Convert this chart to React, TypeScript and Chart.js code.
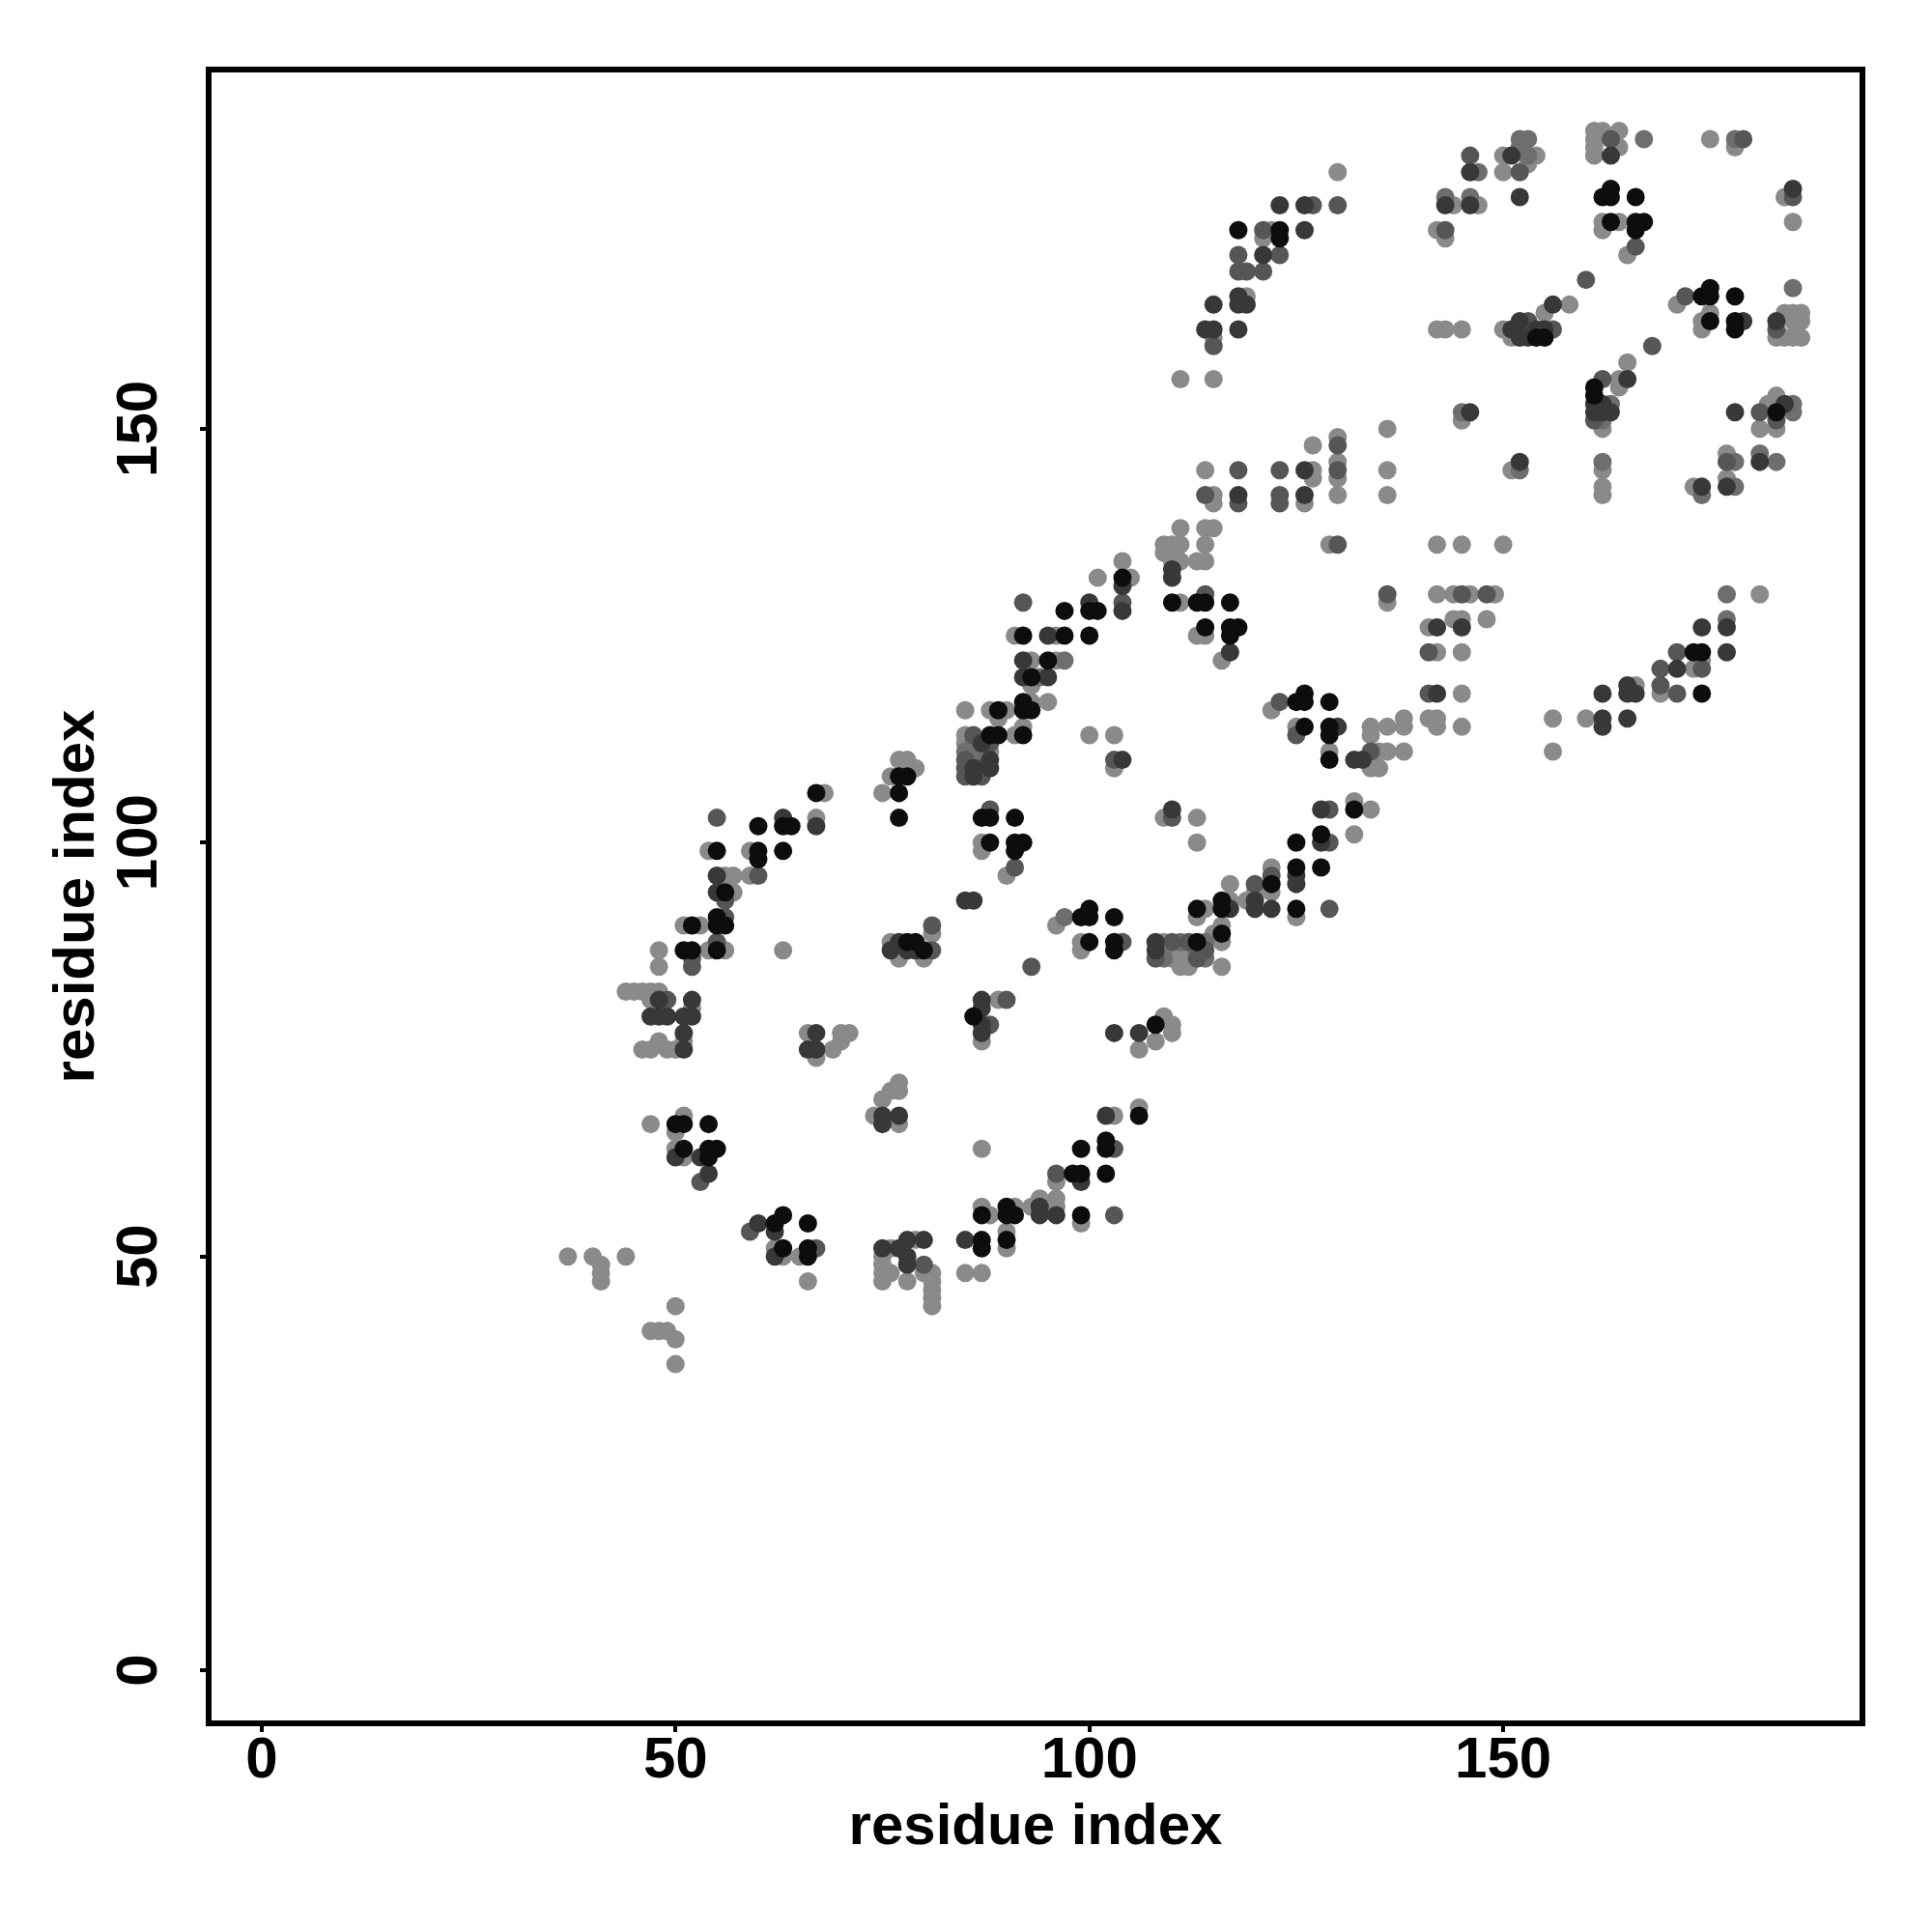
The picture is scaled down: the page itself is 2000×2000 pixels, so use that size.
import { useEffect, useRef } from "react";
import { Chart, registerables } from "chart.js";

Chart.register(...registerables);

// Axis settings
const AXIS_MIN = -6.4;
const AXIS_MAX = 193.4;
const TICK_VALUES = [0, 50, 100, 150];
const X_TITLE = "residue index";
const Y_TITLE = "residue index";

// Contacts (residue i, residue j), grouped by shade
const blackPairs: [number, number][] = [
  [62,54],[63,55],[66,54],[63,51],[66,51],[66,50],[87,52],[87,51],[87,55],
  [50,66],[51,66],[54,66],[51,63],[54,63],[55,63],[54,62],
  [51,87],[52,87],[55,87],[52,90],[55,91],[55,90],[56,90],
  [78,88],[79,88],[80,87],[86,79],
  [56,94],[55,99],[60,99],[60,98],[63,99],[60,102],[63,102],[64,102],[67,106],[77,106],[77,108],[78,108],[77,103],
  [88,113],[89,113],[92,113],[87,103],[88,103],[91,103],[88,100],[91,100],[92,100],[91,99],
  [97,128],[100,128],[101,128],[92,125],[97,125],[100,125],[95,122],[93,120],[92,117],[92,116],[93,116],[89,116],[104,132],
  [110,129],[113,129],[114,129],[117,129],[114,126],[117,126],[118,126],[117,125],
  [125,117],[126,118],[126,117],[129,117],[126,114],[129,114],[129,113],[129,110],
  [132,104],[125,100],[128,101],[125,97],[128,97],[122,95],[125,92],[116,93],[116,92],[113,92],[116,89],[113,88],
  [100,88],[103,88],[103,87],[99,91],[100,92],[100,91],[103,91],
  [108,78],[106,67],[99,63],[102,64],[102,63],[98,60],[99,60],[102,60],[90,56],[90,55],[91,55],[99,55],[90,52],
  [173,123],[174,123],[174,118],
  [118,174],[123,174],[123,173],
  [162,178],[163,179],[163,178],[166,178],[163,175],[166,175],[167,175],[166,174],[154,161],[155,161],
  [174,166],[175,167],[175,166],[178,166],[175,163],[178,163],[178,162],[161,155],[161,154],[183,152],
];

const darkPairs: [number, number][] = [
  [60,54],[62,53],[62,50],[75,51],[77,51],[78,52],[80,52],[78,50],[78,49],[85,52],
  [50,62],[53,62],[54,60],[48,81],[52,81],[47,79],[48,79],[49,79],[51,79],[52,79],[51,77],[51,75],
  [67,77],[66,75],[67,75],[75,67],[75,66],[77,67],
  [76,87],[77,88],[78,87],[79,87],
  [87,81],[87,80],[87,78],[87,77],
  [55,96],[55,94],[63,103],[67,102],[86,109],[86,108],[87,112],[88,110],[88,109],
  [85,93],[86,93],
  [100,129],[104,128],[95,125],[92,122],[92,120],[95,120],[104,131],
  [104,110],[110,133],[110,132],[117,123],
  [130,114],[132,110],[133,110],[128,104],[128,100],[125,96],[122,92],[125,95],[120,93],[120,92],[117,92],
  [108,88],[108,87],[110,104],
  [94,56],[94,55],[96,55],[99,59],[103,77],[106,77],[102,67],
  [145,126],[142,126],[142,118],[162,115],[162,114],[165,115],[162,118],[165,119],[165,118],[166,118],[171,121],[174,126],[177,126],[177,123],
  [123,177],[126,177],[126,174],[121,171],[118,166],[118,165],[119,165],[115,165],[114,162],[115,162],[118,162],[126,145],[118,142],[126,142],
  [146,181],[151,183],[163,183],[143,177],[146,177],[152,178],[185,179],[151,162],[152,163],[154,162],[155,162],[152,161],[153,161],
  [156,165],[179,163],[183,163],[165,156],[161,153],[162,153],[161,152],[162,152],[163,152],[146,152],[152,146],[178,152],[184,153],
  [181,146],[174,143],[177,143],
];

const midPairs: [number, number][] = [
  [59,53],[67,51],[80,49],[53,59],[49,81],[52,86],[52,85],[88,78],[90,81],[93,85],[55,88],[56,91],[56,93],[60,96],[55,103],[81,90],[81,87],
  [86,113],[85,110],[85,109],[85,108],[88,112],[87,109],[87,108],[88,104],[91,97],
  [92,129],[104,129],[103,110],
  [114,130],[130,136],[136,130],[123,117],[125,113],[134,111],
  [129,104],[129,100],[122,96],[129,92],[120,95],[110,103],
  [112,88],[110,88],[114,87],[108,86],[113,86],[104,88],
  [103,63],[96,60],[103,55],
  [145,130],[148,130],[141,123],[141,118],[169,121],[169,119],[171,123],[171,118],[174,121],
  [127,177],[130,177],[121,174],[118,171],[123,171],[118,169],[119,169],[121,169],[115,160],[130,148],[118,145],[123,145],[130,145],[114,142],[118,141],[123,142],[123,141],
  [146,183],[152,181],[163,185],[179,185],[143,174],[166,172],[185,178],[160,168],[153,163],[156,162],[168,160],[172,166],[183,162],[162,156],[161,151],[181,152],[183,151],[177,146],
];

const dimPairs: [number, number][] = [
  [86,112],[85,111],[86,110],[87,110],
  [97,122],[94,120],[97,91],
  [111,88],[114,88],[113,87],[114,86],[109,86],
  [177,127],[177,130],
  [152,185],[153,185],[152,184],[153,183],[147,181],[167,185],[178,185],[143,178],[146,178],[185,167],[163,153],[162,151],[162,146],
  [145,152],[152,145],[185,153],[185,152],[178,146],[181,147],[183,146],[174,142],[178,143],
];

const lightPairs: [number, number][] = [
  [37,50],[40,50],[41,49],[41,48],[41,47],[44,50],[50,44],[47,41],[48,41],[49,41],[50,40],[50,37],
  [62,51],[63,50],[65,50],[66,47],
  [75,50],[75,49],[75,48],[75,47],[76,51],[76,48],[79,52],[78,47],[80,48],[81,48],[81,47],[81,46],[81,45],[81,44],
  [85,48],[87,48],[87,56],[88,55],[91,56],[93,56],[94,57],[96,57],[96,56],[99,54],[90,53],[90,51],
  [47,66],[51,67],[50,65],[50,63],[51,62],
  [44,82],[45,82],[46,82],[47,82],[48,82],[47,81],[52,80],[46,75],[47,75],[48,76],[49,75],[50,75],[51,76],
  [66,77],[67,74],[69,75],[70,77],[71,77],[70,76],
  [77,71],[76,70],[75,69],[77,70],[74,67],[77,66],[87,63],
  [48,87],[48,85],[54,87],[56,87],[63,87],[51,90],[53,90],
  [76,88],[77,86],[80,86],[81,89],
  [87,76],[89,81],
  [56,96],[57,96],[57,94],[54,99],[59,99],[59,96],[67,103],[68,106],[75,106],[76,108],[77,110],[78,110],[79,109],
  [85,116],[88,116],[85,113],[85,112],[86,111],[88,111],[91,113],[92,114],
  [87,100],[90,96],[87,99],
  [91,125],[96,125],[93,122],[96,122],[93,119],[93,117],[95,117],[90,116],[89,115],
  [104,134],[101,132],[105,132],[100,113],[103,113],[103,109],
  [111,138],[114,138],[115,138],[109,136],[110,136],[111,136],[114,136],[109,135],[110,135],[110,134],[111,134],[113,134],[114,134],
  [111,129],[113,125],[114,125],[116,122],[129,136],[136,129],
  [122,116],[125,114],[134,114],[136,114],[138,115],[138,114],[134,113],[129,111],[135,111],[136,111],[138,111],[134,109],[135,109],
  [132,105],[134,104],[132,101],[122,97],[122,94],[125,91],[120,94],[119,93],[117,95],[117,93],[114,92],[113,91],[116,90],[116,88],[115,89],
  [111,87],[112,87],[112,86],[109,88],[110,86],[111,85],[112,85],[116,85],
  [99,88],[99,87],[96,90],
  [109,103],[113,103],[113,100],
  [106,75],[109,79],[110,78],[110,77],[108,76],[103,67],[106,68],[96,59],
  [142,136],[145,136],[150,136],[142,130],[144,130],[146,130],[149,130],[144,127],[145,127],[148,127],[141,126],[142,123],[145,123],[145,118],
  [141,115],[142,115],[142,114],[145,114],[156,115],[156,111],[160,115],[166,119],[169,118],[174,122],[173,121],[181,130],
  [130,181],[122,174],[121,173],[119,166],[115,161],[111,156],[115,156],[136,150],[127,148],[130,149],[114,145],[127,145],[127,144],[130,146],[130,144],[136,145],
  [115,142],[115,141],[126,141],[130,142],[136,142],
  [150,183],[150,181],[154,183],[153,182],[161,186],[162,186],[164,186],[161,185],[161,184],[161,183],[164,184],[175,185],[178,184],[144,177],[147,177],
  [142,174],[143,173],[162,175],[164,175],[162,174],[165,171],[184,178],[185,175],[142,162],[143,162],[145,162],[150,162],[151,161],[155,164],[158,165],
  [171,165],[175,164],[174,163],[174,162],[184,164],[185,164],[186,164],[183,161],[184,161],[185,161],[186,161],[185,163],[186,163],
  [165,158],[164,156],[164,155],[162,150],[162,145],[162,143],[162,142],[145,151],[151,145],[182,153],[183,154],[181,150],[183,150],[177,147],[173,143],[177,144],
];

const FONT_FAMILY = "'Liberation Sans', Arial, Helvetica, sans-serif";

const framePlugin = {
  id: "frameBox",
  afterDatasetsDraw(chart: any) {
    const { ctx, chartArea } = chart;
    const { left, top, right, bottom } = chartArea;
    ctx.save();
    ctx.strokeStyle = "#000";
    ctx.lineWidth = 6;
    ctx.strokeRect(left, top, right - left, bottom - top);
    ctx.restore();
  },
};

function toPoints(pairs: [number, number][]) {
  return pairs.map(([x, y]) => ({ x, y }));
}

export default function App() {
  const canvasRef = useRef<HTMLCanvasElement | null>(null);

  useEffect(() => {
    const canvas = canvasRef.current;
    if (!canvas) return;
    const tickFont = { family: FONT_FAMILY, size: 60, weight: "bold" as const, lineHeight: 1 };
    const groups = [
      { label: "black", data: blackPairs, color: "#0d0d0d" },
      { label: "dark", data: darkPairs, color: "#383838" },
      { label: "mid", data: midPairs, color: "#565656" },
      { label: "dim", data: dimPairs, color: "#6e6e6e" },
      { label: "light", data: lightPairs, color: "#8a8a8a" },
    ];
    const chart = new Chart(canvas, {
      type: "scatter",
      data: {
        datasets: groups.map((g) => ({
          label: g.label,
          data: toPoints(g.data),
          backgroundColor: g.color,
          borderWidth: 0,
          pointRadius: 9.5,
          pointHoverRadius: 9.5,
        })),
      },
      options: {
        animation: false,
        responsive: false,
        devicePixelRatio: 1,
        layout: { padding: { top: 72, right: 72, left: 0, bottom: 0 } },
        plugins: { legend: { display: false }, tooltip: { enabled: false } },
        scales: {
          x: {
            type: "linear",
            min: AXIS_MIN,
            max: AXIS_MAX,
            afterBuildTicks: (s: any) => {
              s.ticks = TICK_VALUES.map((v) => ({ value: v }));
            },
            afterFit: (s: any) => {
              s.height = 216;
            },
            border: { display: false },
            grid: { drawOnChartArea: false, drawTicks: true, tickLength: 9, color: "#000", lineWidth: 4 },
            ticks: { font: tickFont, color: "#000", padding: 0, minRotation: 0, maxRotation: 0, autoSkip: false },
            title: { display: true, text: X_TITLE, color: "#000", font: tickFont, padding: { top: 0, bottom: 78 } },
          },
          y: {
            type: "linear",
            min: AXIS_MIN,
            max: AXIS_MAX,
            afterBuildTicks: (s: any) => {
              s.ticks = TICK_VALUES.map((v) => ({ value: v }));
            },
            afterFit: (s: any) => {
              s.width = 216;
            },
            border: { display: false },
            grid: { drawOnChartArea: false, drawTicks: true, tickLength: 9, color: "#000", lineWidth: 4 },
            ticks: { font: tickFont, color: "#000", padding: 11, minRotation: 90, maxRotation: 90, crossAlign: "center", autoSkip: false },
            title: { display: true, text: Y_TITLE, color: "#000", font: tickFont, padding: { top: 50, bottom: 0 } },
          },
        },
      },
      plugins: [framePlugin],
    });
    return () => chart.destroy();
  }, []);

  return (
    <div style={{ position: "absolute", left: 0, top: 0, width: 2000, height: 2000, background: "#fff" }}>
      <canvas ref={canvasRef} width={2000} height={2000} style={{ display: "block", width: 2000, height: 2000 }} />
    </div>
  );
}
